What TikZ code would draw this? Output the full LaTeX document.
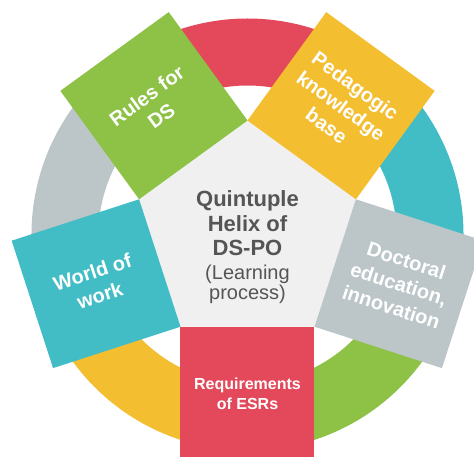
\documentclass[tikz,border=0pt]{standalone}
\usepackage{fontspec}
\setmainfont{Liberation Sans}
\usepackage{xcolor}
\usepackage{tikz}
\usetikzlibrary{positioning}

\definecolor{helixred}{RGB}{227,73,90}
\definecolor{helixgreen}{RGB}{141,194,70}
\definecolor{helixyellow}{RGB}{243,190,48}
\definecolor{helixteal}{RGB}{66,189,198}
\definecolor{helixgray}{RGB}{188,198,200}
\definecolor{helixcore}{RGB}{240,240,240}
\definecolor{hubtext}{RGB}{85,85,85}

\begin{document}
\begin{tikzpicture}[
  x=1pt, y=1pt,
  seg/.style={line width=67pt},
  facet/.style={rectangle, minimum width=134pt, minimum height=134pt, inner sep=0pt, outer sep=0pt,
    align=center, text=white, font=\bfseries\fontsize{20}{24.5}\selectfont},
  hub/.style={align=center, inner sep=0pt, text=hubtext, font=\bfseries\fontsize{22}{24.5}\selectfont},
  hubsub/.style={align=center, inner sep=0pt, text=hubtext, font=\fontsize{20}{19.5}\selectfont}
]
  \useasboundingbox (-247.5,-222.5) rectangle (226.5,234.5);
  \clip (-247.5,-222.5) rectangle (226.5,234.5);

  % outer ring, one colour per gap
  \draw[seg, helixred]    (54:182.5pt)   arc[start angle=54,   end angle=126,  radius=182.5pt];
  \draw[seg, helixgray]   (126:182.5pt)  arc[start angle=126,  end angle=198,  radius=182.5pt];
  \draw[seg, helixyellow] (198:182.5pt)  arc[start angle=198,  end angle=270,  radius=182.5pt];
  \draw[seg, helixgreen]  (270:182.5pt)  arc[start angle=270,  end angle=342,  radius=182.5pt];
  \draw[seg, helixteal]   (-18:182.5pt)  arc[start angle=-18,  end angle=54,   radius=182.5pt];

  % pentagon in the middle
  \fill[helixcore] (90:114pt) -- (162:114pt) -- (234:114pt) -- (306:114pt) -- (18:114pt) -- cycle;
  \node[hub] (hub) at (0,11) {Quintuple\\Helix of\\DS-PO};
  \node[hubsub, below=9pt of hub] (learn) {(Learning\\process)};

  % one square on each side
  \node[facet, fill=helixgreen, rotate=36] (rules) at (126:159.2pt) {Rules for\\DS};
  \node[facet, fill=helixyellow, rotate=-36] (pedagogy) at (54:159.2pt) {Pedagogic\\knowledge\\base};
  \node[facet, fill=helixgray, rotate=-18] (doctoral) at (-18:159.2pt) {Doctoral\\education,\\innovation};
  \node[facet, fill=helixred, font=\bfseries\fontsize{16}{20}\selectfont] (esr) at (270:159.2pt) {Requirements\\of ESRs};
  \node[facet, fill=helixteal, rotate=18] (work) at (198:159.2pt) {World of\\work};
\end{tikzpicture}
\end{document}
